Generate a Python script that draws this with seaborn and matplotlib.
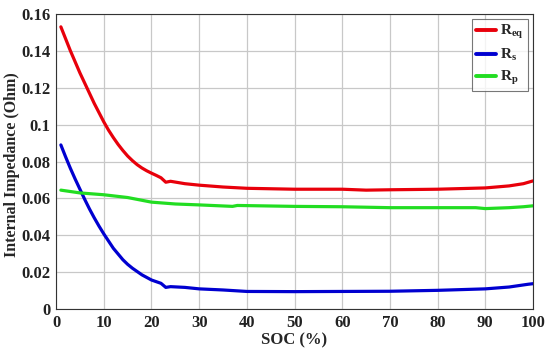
import numpy as np
import pandas as pd
import matplotlib
matplotlib.use("Agg")
import matplotlib.pyplot as plt
import seaborn as sns
from matplotlib.ticker import FuncFormatter

# --- data ---
soc_req = [1, 2, 3, 4, 5, 6, 7, 8, 9, 10, 11, 12, 13, 14, 15, 16, 17, 18, 19, 20, 21, 22, 23, 24,
           27, 30, 35, 40, 50, 60, 65, 70, 80, 90, 95, 98, 100]
req = [0.153, 0.1465, 0.140, 0.134, 0.128, 0.1225, 0.117, 0.1115, 0.1065, 0.1015, 0.097, 0.093, 0.0893,
       0.086, 0.083, 0.0805, 0.0783, 0.0765, 0.075, 0.0737, 0.0725, 0.0712, 0.0688, 0.0693,
       0.068, 0.0672, 0.0662, 0.0655, 0.065, 0.065, 0.0645, 0.0647, 0.065, 0.0657, 0.0668, 0.068, 0.0695]

soc_rs = [1, 2, 3, 4, 5, 6, 7, 8, 9, 10, 12, 14, 15, 16, 18, 20, 22, 23, 24, 27, 30, 35, 40,
          50, 60, 70, 80, 90, 95, 99, 100]
rs = [0.089, 0.0825, 0.0763, 0.0705, 0.065, 0.0595, 0.0543, 0.0495, 0.045, 0.0408, 0.033, 0.0268, 0.0243,
      0.0222, 0.0186, 0.0158, 0.014, 0.0118, 0.0122, 0.0118, 0.011, 0.0104, 0.0096,
      0.0095, 0.0096, 0.0097, 0.0102, 0.011, 0.012, 0.0135, 0.0138]

soc_rp = [1, 5, 10, 15, 18, 20, 25, 30, 37, 38, 50, 60, 70, 80, 88, 90, 95, 98, 100]
rp = [0.0645, 0.063, 0.062, 0.0605, 0.059, 0.058, 0.057, 0.0565, 0.0557, 0.0562, 0.0557, 0.0555, 0.055,
      0.055, 0.055, 0.0545, 0.055, 0.0555, 0.056]

labels = [r"$\mathrm{R_{eq}}$", r"$\mathrm{R_{s}}$", r"$\mathrm{R_{p}}$"]
colors = ["#e8000b", "#0000d0", "#22dd22"]

df = pd.concat([
    pd.DataFrame({"SOC": soc_req, "R": req, "Series": labels[0]}),
    pd.DataFrame({"SOC": soc_rs, "R": rs, "Series": labels[1]}),
    pd.DataFrame({"SOC": soc_rp, "R": rp, "Series": labels[2]}),
], ignore_index=True)

sns.set_style("whitegrid")
plt.rcParams["font.family"] = ["Liberation Serif", "DejaVu Serif"]
plt.rcParams["font.weight"] = "bold"
plt.rcParams["mathtext.fontset"] = "custom"
plt.rcParams["mathtext.rm"] = "Liberation Serif:bold"
plt.rcParams["mathtext.it"] = "Liberation Serif:bold:italic"
plt.rcParams["mathtext.bf"] = "Liberation Serif:bold"

fig = plt.figure(figsize=(5.5, 3.57), dpi=100)
ax = fig.add_axes([0.102, 0.134, 0.867, 0.827])

sns.lineplot(data=df, x="SOC", y="R", hue="Series", hue_order=labels,
             palette=colors, linewidth=2.3, ax=ax, sort=True, estimator=None)

ax.set_xlim(0, 100)
ax.set_ylim(0, 0.16)
ax.set_xticks(np.arange(0, 101, 10))
ax.set_yticks(np.arange(0, 0.161, 0.02))
ax.yaxis.set_major_formatter(FuncFormatter(lambda v, p: f"{v:g}" if abs(v) > 1e-9 else "0"))

ax.grid(True, color="#c8c8c8", linewidth=0.9)
for s in ax.spines.values():
    s.set_color("#333333")
    s.set_linewidth(0.8)
ax.tick_params(direction="in", length=3, labelsize=12, colors="#222222", pad=4)
for t in ax.get_xticklabels() + ax.get_yticklabels():
    t.set_fontweight("bold")

ax.set_xlabel("SOC (%)", fontsize=12, fontweight="bold", labelpad=1)
ax.set_ylabel("Internal Impedance (Ohm)", fontsize=11.5, fontweight="bold")
ax.yaxis.set_label_coords(-0.075, 0.49)

leg = ax.legend(loc="upper right", fontsize=11, frameon=True, fancybox=False,
                handlelength=1.3, handletextpad=0.3, borderpad=0.25, labelspacing=0.4,
                borderaxespad=0.35)
leg.get_frame().set_edgecolor("#555555")
leg.get_frame().set_linewidth(0.8)
leg.set_title(None)
for line in leg.get_lines():
    line.set_linewidth(2.8)

fig.savefig("out.png", dpi=100)
